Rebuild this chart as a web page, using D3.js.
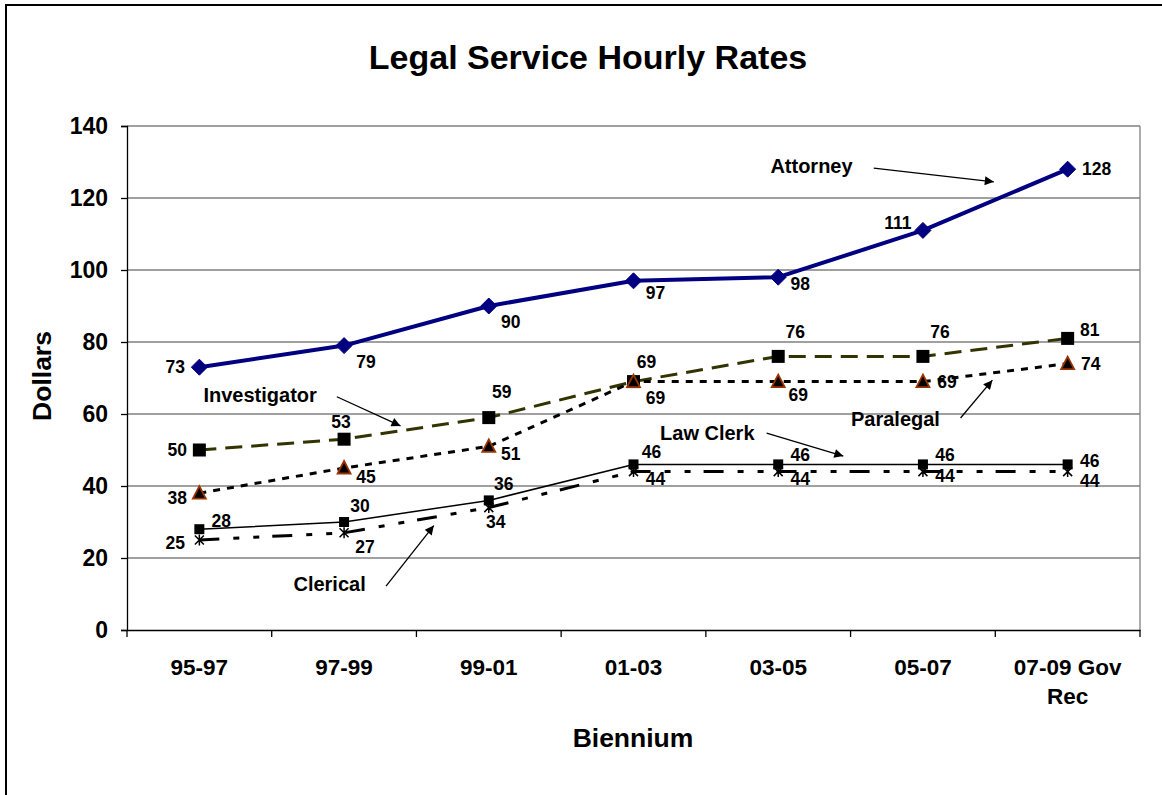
<!DOCTYPE html>
<html>
<head>
<meta charset="utf-8">
<script src="https://cdn.jsdelivr.net/npm/d3@7"></script>
<style>
  html, body { margin: 0; padding: 0; background: #fff; }
  svg { display: block; font-family: "Liberation Sans", Arial, sans-serif; font-weight: bold; }
</style>
</head>
<body>
<svg id="chart" width="1162" height="795"></svg>
<script>
// ---- data ----
const categories = ["95-97", "97-99", "99-01", "01-03", "03-05", "05-07", "07-09 Gov\nRec"];
const yTicks = [0, 20, 40, 60, 80, 100, 120, 140];
const attorney     = [73, 79, 90, 97, 98, 111, 128];
const investigator = [50, 53, 59, 69, 76, 76, 81];
const paralegal    = [38, 45, 51, 69, 69, 69, 74];
const lawClerk     = [28, 30, 36, 46, 46, 46, 46];
const clerical     = [25, 27, 34, 44, 44, 44, 44];

// ---- layout ----
const W = 1162, H = 795;
const plot = { left: 127, right: 1140, top: 126, bottom: 630 };

const svg = d3.select("#chart");

const x = d3.scaleBand().domain(categories).range([plot.left, plot.right]).paddingInner(0).paddingOuter(0);
const y = d3.scaleLinear().domain([0, 140]).range([plot.bottom, plot.top]);
const cx = c => x(c) + x.bandwidth() / 2;
// fractional category position (0 = first category centre)
const xi = i => x(categories[0]) + x.bandwidth() / 2 + i * x.step();

// outer frame
svg.append("rect")
  .attr("x", 6).attr("y", 5).attr("width", W + 20).attr("height", H + 20)
  .attr("fill", "none").attr("stroke", "#000").attr("stroke-width", 2);

// title
svg.append("text")
  .attr("x", 588).attr("y", 57).attr("text-anchor", "middle").attr("dominant-baseline", "central")
  .attr("font-size", 34).text("Legal Service Hourly Rates");

// gridlines
svg.append("g").selectAll("line").data(yTicks.filter(v => v > 0)).join("line")
  .attr("x1", plot.left).attr("x2", plot.right)
  .attr("y1", d => y(d)).attr("y2", d => y(d))
  .attr("stroke", "#808080").attr("stroke-width", 1.3);

// right edge of plot area
svg.append("line")
  .attr("x1", plot.right).attr("x2", plot.right).attr("y1", plot.top).attr("y2", plot.bottom)
  .attr("stroke", "#808080").attr("stroke-width", 1.3);

// y axis
const yAxis = svg.append("g").attr("transform", `translate(${plot.left},0)`)
  .call(d3.axisLeft(y).tickValues(yTicks).tickSize(6).tickPadding(13));
yAxis.select(".domain").attr("stroke", "#000").attr("stroke-width", 1.3);
yAxis.selectAll(".tick line").attr("stroke", "#000").attr("stroke-width", 1.3);
yAxis.selectAll("text").attr("font-size", 23).attr("font-family", "Liberation Sans, Arial, sans-serif")
  .attr("font-weight", "bold").attr("fill", "#000");

// x axis
const xAxis = svg.append("g").attr("transform", `translate(0,${plot.bottom})`)
  .call(d3.axisBottom(x).tickSize(0).tickPadding(0).tickFormat(""));
xAxis.select(".domain").attr("stroke", "#000").attr("stroke-width", 1.3);
// boundary ticks between categories
const bounds = categories.map(c => x(c)).concat([x(categories[categories.length - 1]) + x.step()]);
svg.append("g").selectAll("line").data(bounds).join("line")
  .attr("x1", d => d).attr("x2", d => d)
  .attr("y1", plot.bottom).attr("y2", plot.bottom + 7)
  .attr("stroke", "#000").attr("stroke-width", 1.3);
// category labels (multi-line)
const xl = svg.append("g").selectAll("text").data(categories).join("text")
  .attr("x", d => cx(d)).attr("y", 675)
  .attr("text-anchor", "middle").attr("font-size", 22.5);
xl.each(function(d) {
  const lines = d.split("\n");
  d3.select(this).selectAll("tspan").data(lines).join("tspan")
    .attr("x", cx(d)).attr("dy", (l, i) => i === 0 ? 0 : 29).text(l => l);
});

// axis titles
svg.append("text")
  .attr("x", 633).attr("y", 738).attr("text-anchor", "middle").attr("dominant-baseline", "central")
  .attr("font-size", 26.5).text("Biennium");
svg.append("text")
  .attr("transform", "translate(42,376) rotate(-90)")
  .attr("text-anchor", "middle").attr("dominant-baseline", "central")
  .attr("font-size", 26.5).text("Dollars");

// ---- series ----
const line = d3.line().x((d, i) => cx(categories[i])).y(d => y(d));

const series = [
  { name: "Investigator", values: investigator, color: "#333300", width: 3, dash: "17,9", marker: "bigSquare",
    labels: [[-22,0],[-3,-17],[13,-26],[13,-20],[17,-24],[17,-24],[22,-8]] },
  { name: "Paralegal", values: paralegal, color: "#000", width: 3, dash: "7,7", marker: "triangle",
    labels: [[-22,5],[22,9],[22,8],[22,16],[20,13],[24,0],[23,0]] },
  { name: "Law Clerk", values: lawClerk, color: "#000", width: 1.5, dash: null, marker: "smallSquare",
    labels: [[22,-8],[16,-16],[15,-16],[18,-12],[22,-9],[22,-9],[22,-3]] },
  { name: "Clerical", values: clerical, color: "#000", width: 3, dash: "20,14,6,14,6,13", marker: "star",
    labels: [[-24,3],[21,14],[7,14],[22,7],[22,7],[22,4],[22,9]] },
  { name: "Attorney", values: attorney, color: "#000080", width: 4, dash: null, marker: "diamond",
    labels: [[-24,0],[22,16],[22,16],[22,12],[22,7],[-25,-7],[29,0]] }
];

series.forEach(s => {
  svg.append("path").datum(s.values)
    .attr("d", line).attr("fill", "none")
    .attr("stroke", s.color).attr("stroke-width", s.width)
    .attr("stroke-dasharray", s.dash).attr("stroke-linejoin", "round");
});

const markerG = svg.append("g");
series.forEach(s => {
  const g = markerG.append("g");
  s.values.forEach((v, i) => {
    const px = cx(categories[i]), py = y(v);
    if (s.marker === "diamond") {
      g.append("path").attr("d", `M${px},${py-8}L${px+8},${py}L${px},${py+8}L${px-8},${py}Z`)
        .attr("fill", "#000080").attr("stroke", "#000080").attr("stroke-width", 1);
    } else if (s.marker === "bigSquare") {
      g.append("rect").attr("x", px - 6.5).attr("y", py - 6.5).attr("width", 13).attr("height", 13)
        .attr("fill", "#000");
    } else if (s.marker === "smallSquare") {
      g.append("rect").attr("x", px - 5).attr("y", py - 5).attr("width", 10).attr("height", 10)
        .attr("fill", "#000");
    } else if (s.marker === "triangle") {
      g.append("path").attr("d", `M${px},${py-7}L${px+6.5},${py+5.5}L${px-6.5},${py+5.5}Z`)
        .attr("fill", "#000").attr("stroke", "#993300").attr("stroke-width", 1.8).attr("stroke-linejoin", "miter");
    } else if (s.marker === "star") {
      g.append("path").attr("d", `M${px-4.5},${py-4.5}L${px+4.5},${py+4.5}M${px+4.5},${py-4.5}L${px-4.5},${py+4.5}M${px},${py-5.5}L${px},${py+5.5}`)
        .attr("stroke", "#000").attr("stroke-width", 1.5).attr("fill", "none");
    }
  });
});

// data labels
const labelG = svg.append("g");
series.forEach(s => {
  s.values.forEach((v, i) => {
    labelG.append("text")
      .attr("x", cx(categories[i]) + s.labels[i][0])
      .attr("y", y(v) + s.labels[i][1])
      .attr("text-anchor", "middle").attr("dominant-baseline", "central")
      .attr("font-size", 17.5).text(v);
  });
});

// ---- annotations (positions in category index / dollar units) ----
const defs = svg.append("defs");
defs.append("marker").attr("id", "arrowhead")
  .attr("viewBox", "0 0 10 10").attr("refX", 10).attr("refY", 5)
  .attr("markerWidth", 12).attr("markerHeight", 9).attr("markerUnits", "userSpaceOnUse")
  .attr("orient", "auto")
  .append("path").attr("d", "M0,0L10,5L0,10Z").attr("fill", "#000");

const annotations = [
  { text: "Attorney",     tx: 4.23, tv: 128.9, from: [4.66, 128.3], to: [5.49, 124.5] },
  { text: "Investigator", tx: 0.42, tv: 65.3,  from: [0.95, 64.8],  to: [1.39, 56.7] },
  { text: "Paralegal",    tx: 4.81, tv: 58.5,  from: [5.26, 58.9],  to: [5.48, 69.4] },
  { text: "Law Clerk",    tx: 3.51, tv: 54.7,  from: [3.92, 54.7],  to: [4.45, 48.3] },
  { text: "Clerical",     tx: 0.90, tv: 12.8,  from: [1.29, 12.2],  to: [1.62, 29.0] }
];
const annG = svg.append("g");
annotations.forEach(a => {
  annG.append("text")
    .attr("x", xi(a.tx)).attr("y", y(a.tv))
    .attr("text-anchor", "middle").attr("dominant-baseline", "central")
    .attr("font-size", 20).text(a.text);
  annG.append("line")
    .attr("x1", xi(a.from[0])).attr("y1", y(a.from[1]))
    .attr("x2", xi(a.to[0])).attr("y2", y(a.to[1]))
    .attr("stroke", "#000").attr("stroke-width", 1.3)
    .attr("marker-end", "url(#arrowhead)");
});
</script>
</body>
</html>
